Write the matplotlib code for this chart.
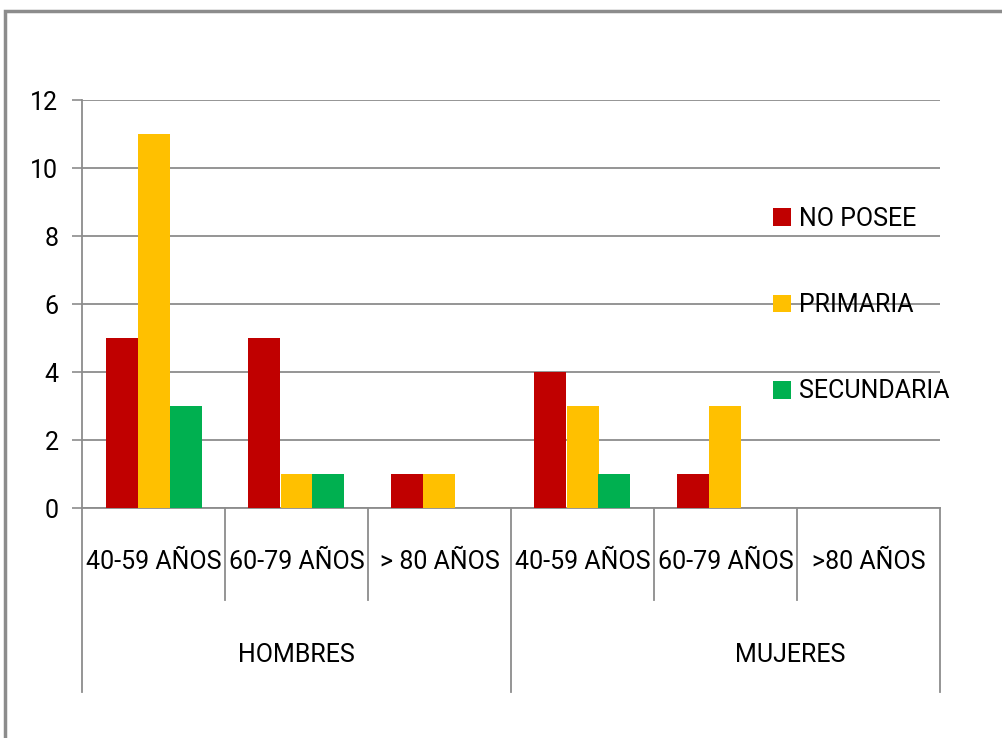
import matplotlib.pyplot as plt
from matplotlib.patches import Rectangle
import numpy as np

# datos
grupos = ["HOMBRES", "MUJERES"]
edades = ["40-59 AÑOS", "60-79 AÑOS", "> 80 AÑOS", "40-59 AÑOS", "60-79 AÑOS", ">80 AÑOS"]
series = ["NO POSEE", "PRIMARIA", "SECUNDARIA"]
no_posee = [5, 5, 1, 4, 1, 0]
primaria = [11, 1, 1, 3, 3, 0]
secundaria = [3, 1, 0, 1, 0, 0]
colores = ["#C00000", "#FFC000", "#00B050"]

plt.rcParams['font.family'] = ['Roboto', 'DejaVu Sans']
gris = "#8C8C8C"
fs = 18

fig = plt.figure(figsize=(10.02, 7.38), dpi=100)
ax = fig.add_axes([82 / 1002, 1 - 508 / 738, (940 - 82) / 1002, 408 / 738])

x = np.arange(len(edades)) + 0.5
w = 32 / 143
for i, (vals, nombre) in enumerate(zip([no_posee, primaria, secundaria], series)):
    ax.bar(x + (i - 1) * w, vals, width=w, color=colores[i], label=nombre, zorder=3)

ax.set_xlim(0, len(edades))
ax.set_ylim(0, 12)
ax.set_yticks(range(0, 13, 2))
ax.tick_params(axis='y', labelsize=fs, length=7, color=gris, width=1.2, pad=10)
ax.set_xticks([])
ax.grid(axis='y', color=gris, linewidth=1.3, zorder=0)
for s in ['top', 'right']:
    ax.spines[s].set_visible(False)
for s in ['left', 'bottom']:
    ax.spines[s].set_color(gris)
    ax.spines[s].set_linewidth(1.3)

# ejes de categorias en dos niveles
trans = ax.get_xaxis_transform()
for k in range(1, len(edades)):
    if k == 3:
        continue
    ax.plot([k, k], [0, -0.2255], color=gris, lw=1.3, transform=trans, clip_on=False)
for k in [0, 3, 6]:
    ax.plot([k, k], [0, -0.451], color=gris, lw=1.3, transform=trans, clip_on=False)
for xi, lab in zip(x, edades):
    ax.text(xi, -0.132, lab, transform=trans, ha='center', va='center', fontsize=fs)
# la etiqueta de MUJERES aparece desplazada a la derecha en el original
for xg, g in zip([1.5, 4.95], grupos):
    ax.text(xg, -0.36, g, transform=trans, ha='center', va='center', fontsize=fs)

ax.legend(loc='center left', bbox_to_anchor=(773 / 1002, 1 - 305 / 738),
          bbox_transform=fig.transFigure, frameon=False, fontsize=fs,
          handlelength=0.7, handleheight=0.7, handletextpad=0.35,
          labelspacing=2.5, borderpad=0, borderaxespad=0)

# marco del grafico
fig.patches.append(Rectangle((5 / 1002, -0.1), 1.2, 1 - 11 / 738 + 0.1,
                             transform=fig.transFigure, fill=False,
                             edgecolor="#8C8C8C", linewidth=2.5))

fig.savefig("out.png", dpi=100)
